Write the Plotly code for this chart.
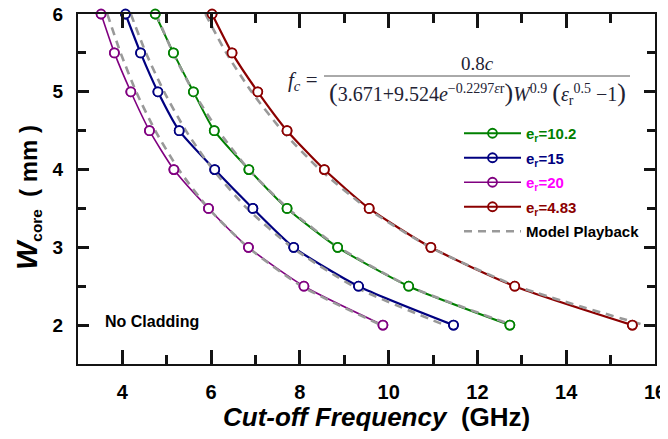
import plotly.graph_objects as go

# ---- data ----
w_core = [6.0, 5.5, 5.0, 4.5, 4.0, 3.5, 3.0, 2.5, 2.0]

f_er10p2 = [4.74, 5.15, 5.60, 6.07, 6.85, 7.71, 8.85, 10.45, 12.73]
f_er15 = [4.07, 4.41, 4.80, 5.28, 6.08, 6.94, 7.86, 9.32, 11.46]
f_er20 = [3.52, 3.82, 4.19, 4.61, 5.16, 5.94, 6.84, 8.09, 9.87]
f_er4p83 = [6.02, 6.47, 7.05, 7.71, 8.55, 9.56, 10.95, 12.84, 15.49]

model_er10p2 = [4.76, 5.14, 5.60, 6.16, 6.85, 7.73, 8.88, 10.46, 12.79]
model_er15 = [4.19, 4.53, 4.94, 5.43, 6.04, 6.81, 7.82, 9.21, 11.26]
model_er20 = [3.66, 3.96, 4.31, 4.74, 5.27, 5.94, 6.83, 8.04, 9.83]
model_er4p83 = [5.87, 6.34, 6.91, 7.60, 8.45, 9.52, 10.94, 12.89, 15.76]

series_names = ["10.2", "15", "20", "4.83"]
series_x = [f_er10p2, f_er15, f_er20, f_er4p83]
model_x = [model_er10p2, model_er15, model_er20, model_er4p83]
line_colors = ["#008000", "#000080", "#800080", "#8B0000"]
label_colors = ["#008000", "#000080", "#FF00FF", "#8B0000"]
line_widths = [2, 2.2, 1.6, 2.2]

x_range = [3, 16]
y_range = [1.5, 6]
x_ticks = [4, 6, 8, 10, 12, 14, 16]
y_ticks = [2, 3, 4, 5, 6]

FONT = "Liberation Sans, Arial, sans-serif"
SERIF = "Liberation Serif, Times New Roman, serif"
AXC = "#141414"

# page body has an 8px margin: figure is shifted by OFF px, so size/margins compensate
OFF = 8
W, H = 668 - OFF, 439 - OFF
L, R, T, B = 78 - OFF, 13, 14 - OFF, 75
pw, ph = W - L - R, H - T - B


def px(xs):  # screen pixel x -> paper
    return (xs - OFF - L) / pw


def py(ys):  # screen pixel y -> paper
    return 1 - (ys - OFF - T) / ph


fig = go.Figure()

for k, (name, xs, lc, tc, lw) in enumerate(zip(series_names, series_x, line_colors, label_colors, line_widths)):
    fig.add_trace(go.Scatter(
        x=xs, y=w_core, mode="lines+markers",
        line=dict(color=lc, width=lw, shape="spline", smoothing=0.6),
        marker=dict(symbol="circle-open", size=9, color=lc, line=dict(width=1.8, color=lc)),
        name=f"<span style='color:{tc}'><b>e<sub>r</sub>=" + name + "</b></span>",
        legendgroup=f"g{k}",
    ))

for i, xs in enumerate(model_x):
    fig.add_trace(go.Scatter(
        x=xs, y=w_core, mode="lines",
        line=dict(color="#999999", width=2.6, dash="8px,6px", shape="spline", smoothing=0.6),
        name="<b>Model Playback</b>", showlegend=(i == 0), legendgroup="model",
    ))

for xs, lc in zip(series_x, line_colors):
    fig.add_trace(go.Scatter(
        x=xs, y=w_core, mode="markers", showlegend=False, cliponaxis=False,
        marker=dict(symbol="circle", size=9, color="white", line=dict(width=1.8, color=lc)),
    ))

axis_style = dict(
    showline=True, linecolor=AXC, linewidth=2, mirror="allticks",
    ticks="inside", tickcolor=AXC, tickwidth=3,
    showgrid=False, zeroline=False, layer="above traces",
    ticklabeloverflow="allow", ticklabelstandoff=9,
)
xaxis = dict(
    range=x_range, tickmode="array", tickvals=x_ticks, ticktext=[f"<b>{v}</b>" for v in x_ticks],
    ticklen=14,
    minor=dict(dtick=1, tick0=3, ticks="inside", ticklen=9, tickwidth=3, tickcolor=AXC),
    tickfont=dict(family=FONT, size=20, color="black"), **axis_style,
)
yaxis = dict(
    range=y_range, tickmode="array", tickvals=y_ticks, ticktext=[f"<b>{v}</b>" for v in y_ticks],
    ticklen=11,
    minor=dict(dtick=0.5, tick0=1.5, ticks="inside", ticklen=8, tickwidth=3, tickcolor=AXC),
    tickfont=dict(family=FONT, size=19, color="black"), **axis_style,
)

shapes = [dict(type="line", xref="paper", yref="paper", x0=px(324), x1=px(630), y0=py(76), y1=py(76),
               line=dict(color="#555555", width=1))]

annotations = [
    dict(text="<b><i>Cut-off Frequency</i></b>  <b>(GHz)</b>", x=px(376), y=py(417),
         xanchor="center", yanchor="middle",
         showarrow=False, font=dict(family=FONT, size=26, color="black")),
    dict(text="<b><i><span style='font-size:30px'>W</span></i><sub>core</sub>  "
              "<span style='font-size:24px'>( mm )</span></b>",
         x=px(27), y=py(198), xanchor="center", yanchor="middle", textangle=-90,
         showarrow=False, font=dict(family=FONT, size=22, color="black")),
    dict(text="<b>No Cladding</b>", x=px(103), y=py(321), xanchor="left", yanchor="middle",
         showarrow=False, font=dict(family=FONT, size=16, color="black")),
    dict(text="<i>f<sub>c</sub></i> =", x=px(286), y=py(81), xanchor="left", yanchor="middle",
         showarrow=False, font=dict(family=SERIF, size=21, color="#222233")),
    dict(text="0.8<i>c</i>", x=px(477), y=py(63), xanchor="center", yanchor="middle",
         showarrow=False, font=dict(family=SERIF, size=19, color="#222233")),
    dict(text="<span style='font-size:26px'>(</span>3.671+9.524<i>e</i><sup>−0.2297<i>ε</i>r</sup>"
              "<span style='font-size:26px'>)</span><i>W</i><sup>0.9</sup> "
              "<span style='font-size:26px'>(</span><i>ε</i><sub>r</sub><sup>0.5</sup> −1"
              "<span style='font-size:26px'>)</span>",
         x=px(477), y=py(93), xanchor="center", yanchor="middle",
         showarrow=False, font=dict(family=SERIF, size=20, color="#222233")),
]
for a in annotations:
    a["xref"] = "paper"
    a["yref"] = "paper"

fig.update_layout(
    width=W, height=H,
    margin=dict(l=L, r=R, t=T, b=B, autoexpand=False),
    plot_bgcolor="white", paper_bgcolor="white",
    font=dict(family=FONT, color="black"),
    xaxis=xaxis, yaxis=yaxis,
    annotations=annotations, shapes=shapes,
    legend=dict(x=px(459), y=py(117), xanchor="left", yanchor="top", itemwidth=57,
                traceorder="grouped", tracegroupgap=2,
                bgcolor="rgba(0,0,0,0)", font=dict(family=FONT, size=15, color="black")),
    showlegend=True,
)

fig.write_html("out.html")
